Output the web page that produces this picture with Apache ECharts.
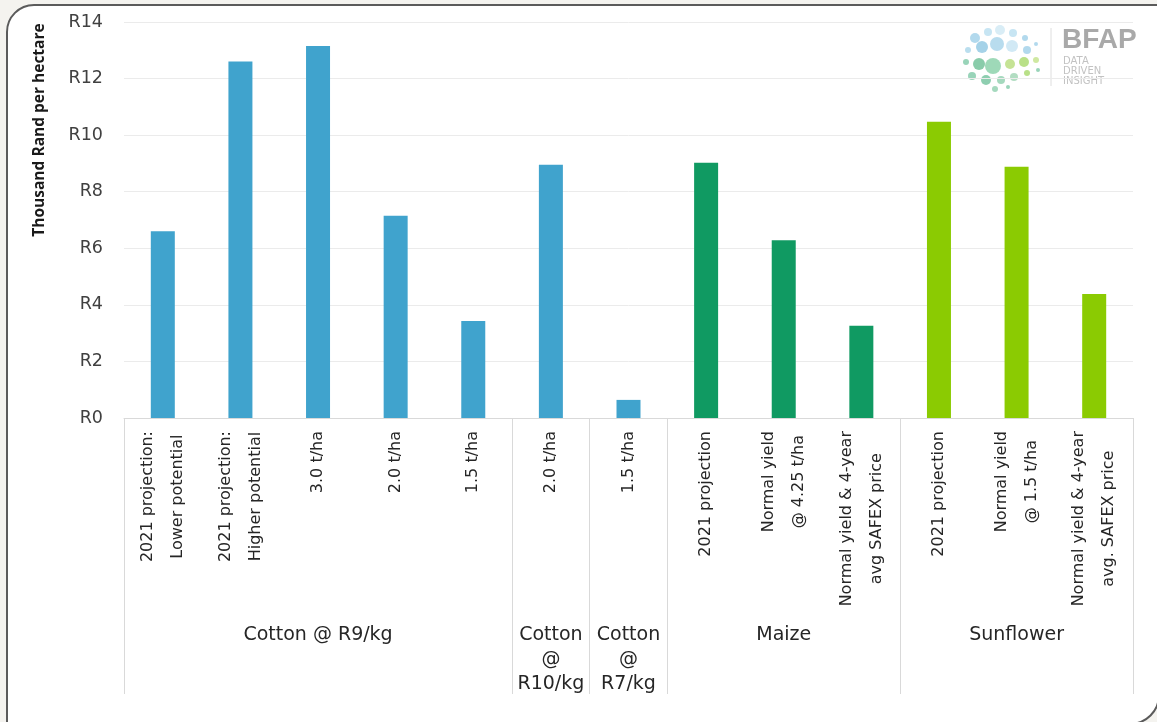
<!DOCTYPE html>
<html><head><meta charset="utf-8">
<script src="https://cdn.jsdelivr.net/npm/echarts@6/dist/echarts.min.js"></script>
<style>
html,body{margin:0;padding:0;width:1157px;height:722px;overflow:hidden;background:#f4f3ef;}
#frame{position:absolute;left:6px;top:4px;width:1154px;height:721px;box-sizing:border-box;border:2px solid #5b5b5b;border-radius:28px 0 30px 0;background:#fff;}
#chart{position:absolute;left:0;top:0;width:1157px;height:722px;}
</style></head><body>
<div id="frame"></div><div id="chart"></div>
<script>
// ---- data ----
const categories = [
  '2021 projection:\nLower potential', '2021 projection:\nHigher potential', '3.0 t/ha', '2.0 t/ha', '1.5 t/ha',
  '2.0 t/ha',
  '1.5 t/ha',
  '2021 projection', 'Normal yield\n@ 4.25 t/ha', 'Normal yield & 4-year\navg SAFEX price',
  '2021 projection', 'Normal yield\n@ 1.5 t/ha', 'Normal yield & 4-year\navg. SAFEX price'
];
const values = [6.6, 12.6, 13.15, 7.15, 3.43, 8.95, 0.64, 9.02, 6.28, 3.26, 10.47, 8.88, 4.38];
const groupNames = ['Cotton @ R9/kg', 'Cotton\n@\nR10/kg', 'Cotton\n@\nR7/kg', 'Maize', 'Sunflower'];
const groupSizes = [5, 1, 1, 3, 3];
const yTickValues = [0, 2, 4, 6, 8, 10, 12, 14];
const yAxisTitle = 'Thousand Rand per hectare';

// ---- styles ----
const groupColors = ['#40a3cd', '#40a3cd', '#40a3cd', '#109a62', '#8bcb02'];
const FONT = 'DejaVu Sans';

// derived helpers
const catGroup = [];
const groupStarts = [];
const groupMid = {};
let idx = 0;
groupSizes.forEach((n, g) => {
  groupStarts.push(idx);
  groupMid[idx + Math.floor(n / 2)] = groupNames[g];
  for (let i = 0; i < n; i++) catGroup.push(g);
  idx += n;
});

const chart = echarts.init(document.getElementById('chart'), null, {renderer: 'canvas'});

const logoDots = [
  [975,38,5,'#9fd0e8'],[988,32,4,'#b9def0'],[1000,30,5,'#cfe8f4'],[1013,33,4,'#b9def0'],[1025,38,3,'#9fd0e8'],
  [968,50,3,'#a9d6ea'],[982,47,6,'#8ec7e2'],[997,44,7,'#a6d3ea'],[1012,46,6,'#c6e4f2'],[1027,50,4,'#9fd0e8'],[1036,44,2,'#9fd0e8'],
  [966,62,3,'#7fc9a8'],[979,64,6,'#6cbf95'],[993,66,8,'#86cfa6'],[1010,64,5,'#b6dc7a'],[1024,62,5,'#a8d86a'],[1036,60,3,'#c3e28a'],
  [972,76,4,'#7fc9a8'],[986,80,5,'#72c29c'],[1001,80,4,'#8fd0ae'],[1014,77,4,'#9fd4b3'],[1027,73,3,'#a8d86a'],[1038,70,2,'#7fc9a8'],
  [995,89,3,'#8fd0ae'],[1008,87,2,'#7fc9a8']
];

const option = {
  animation: false,
  grid: {left: 124, right: 24, top: 22, bottom: 304, containLabel: false},
  xAxis: [{
    type: 'category',
    data: categories,
    position: 'bottom',
    axisLine: {show: true, lineStyle: {color: '#d9d9d9', width: 1}},
    axisTick: {
      show: true, inside: false, length: 276,
      interval: (i) => groupStarts.indexOf(i) >= 0,
      lineStyle: {color: '#d9d9d9', width: 1}
    },
    axisLabel: {
      interval: 0, rotate: 90, margin: 13,
      formatter: (v) => v.split('\n').map(l => '{c|' + l + '}').join('\n'),
      rich: {c: {align: 'center', fontFamily: FONT, fontSize: 16, lineHeight: 30, color: '#262626'}}
    },
    splitLine: {show: false}
  }, {
    type: 'category',
    data: categories,
    position: 'bottom',
    offset: 205,
    axisLine: {show: false},
    axisTick: {show: false},
    axisLabel: {
      interval: 0, margin: 0,
      formatter: (v, i) => groupMid[i] || '',
      fontFamily: FONT, fontSize: 19, lineHeight: 24.5, color: '#262626', align: 'center'
    }
  }],
  yAxis: {
    type: 'value', min: 0, max: 14, interval: 2,
    axisLine: {show: false}, axisTick: {show: false},
    axisLabel: {
      formatter: (v) => yTickValues.indexOf(v) >= 0 ? 'R' + v : '',
      fontFamily: FONT, fontSize: 17.5, color: '#404040', margin: 21
    },
    splitLine: {lineStyle: {color: '#ebebeb', width: 1}}
  },
  series: [{
    type: 'bar',
    xAxisIndex: 0,
    barWidth: 24,
    data: values.map((v, i) => ({value: v, itemStyle: {color: groupColors[catGroup[i]]}}))
  }],
  graphic: [
    {type: 'text', x: 40, y: 130, rotation: Math.PI / 2,
     style: {text: yAxisTitle, align: 'center', verticalAlign: 'middle', font: 'bold 15.5px "Open Sans"', fill: '#1a1a1a'}},
    {type: 'line', shape: {x1: 1051, y1: 28, x2: 1051, y2: 86}, style: {stroke: '#dedede', lineWidth: 1}},
    {type: 'text', x: 1062, y: 26, style: {text: 'BFAP', font: 'bold 28px "Liberation Sans"', fill: '#a9a9a9'}},
    {type: 'text', x: 1063, y: 56, style: {text: 'DATA\nDRIVEN\nINSIGHT', font: '10px "DejaVu Sans"', lineHeight: 10, fill: '#c2c2c2'}}
  ].concat(logoDots.map(d => ({type: 'circle', shape: {cx: d[0], cy: d[1], r: d[2]}, style: {fill: d[3], opacity: 0.8}})))
};
chart.setOption(option);
</script>
</body></html>
